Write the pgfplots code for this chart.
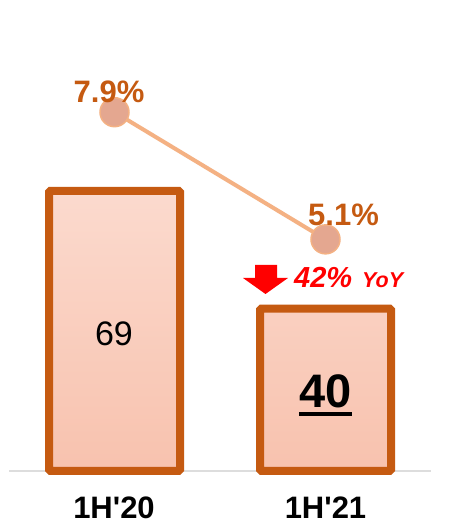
\documentclass[border=0pt]{standalone}
\usepackage{pgfplots}
\pgfplotsset{compat=1.18}
\usepackage{fontspec}
\setmainfont{Liberation Sans}
\definecolor{bordc}{HTML}{C55A11}
\definecolor{linec}{HTML}{F4B183}
\definecolor{barTop}{HTML}{FBDACE}
\definecolor{barBot}{HTML}{F8C2AE}
\definecolor{markc}{HTML}{E4A790}
\definecolor{basec}{HTML}{DDDDDD}
\begin{document}
\begin{tikzpicture}
\useasboundingbox (0,0) rectangle (454bp,523bp);
\fill[white] (0,0) rectangle (454bp,523bp);
\draw[basec, line width=1.5bp] (9bp,52bp) -- (431bp,52bp);
\begin{axis}[
  at={(9bp,52bp)}, anchor=south west,
  scale only axis, width=422bp, height=471bp,
  xmin=-0.5, xmax=1.5, ymin=0, ymax=116,
  hide axis, clip=false,
]
\addplot[ybar, bar width=131bp, draw=bordc, line width=8bp,
  top color=barTop, bottom color=barBot, rounded corners=1.5bp]
  coordinates {(0,69) (1,40)};
\end{axis}
\begin{axis}[
  at={(9bp,52bp)}, anchor=south west,
  scale only axis, width=422bp, height=471bp,
  xmin=-0.5, xmax=1.5, ymin=0, ymax=10.37,
  hide axis, clip=false,
]
\addplot[linec, line width=4bp, mark=*, mark size=14.5bp,
  mark options={fill=markc, draw=linec, line width=1.5bp}]
  coordinates {(0,7.9) (1,5.1)};
\end{axis}
% value labels
\node[anchor=base, inner sep=0pt, text=bordc] at (109bp,420bp)
  {\fontsize{31bp}{31bp}\selectfont\bfseries 7.9\%};
\node[anchor=base, inner sep=0pt, text=bordc] at (343.5bp,297bp)
  {\fontsize{31bp}{31bp}\selectfont\bfseries 5.1\%};
\node[anchor=base, inner sep=0pt] at (114bp,177bp)
  {\fontsize{34bp}{34bp}\selectfont 69};
\node[anchor=base, inner sep=0pt] at (325.5bp,115bp)
  {\fontsize{47bp}{47bp}\selectfont\bfseries 40};
\draw[black, line width=4bp] (299bp,109bp) -- (352bp,109bp);
% YoY annotation
\fill[red] (255bp,258bp) -- (277bp,258bp) -- (277bp,245bp) -- (288bp,245bp)
  -- (265.5bp,229bp) -- (243bp,245bp) -- (255bp,245bp) -- cycle;
\node[anchor=base west, inner sep=0pt, text=red] at (294bp,235bp)
  {\fontsize{29bp}{29bp}\selectfont\bfseries\itshape 42\%};
\node[anchor=base west, inner sep=0pt, text=red] at (362bp,235bp)
  {\fontsize{21.5bp}{21.5bp}\selectfont\bfseries\itshape YoY};
% category labels
\node[anchor=base, inner sep=0pt] at (114bp,5bp)
  {\fontsize{31bp}{31bp}\selectfont\bfseries 1H\textquotesingle 20};
\node[anchor=base, inner sep=0pt] at (325.5bp,5bp)
  {\fontsize{31bp}{31bp}\selectfont\bfseries 1H\textquotesingle 21};
\end{tikzpicture}
\end{document}
